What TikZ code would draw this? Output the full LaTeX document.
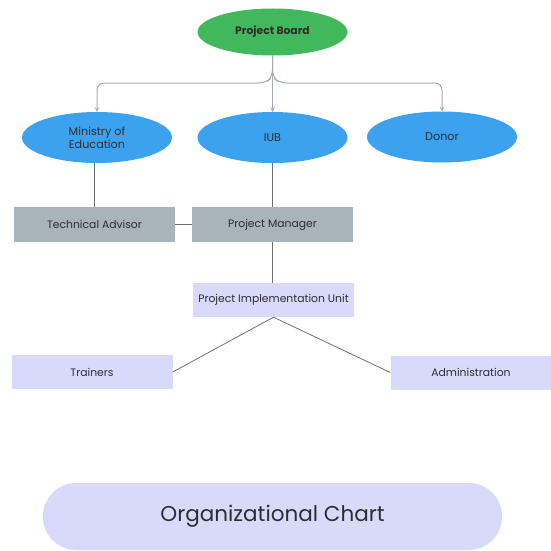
\documentclass[tikz,border=0pt]{standalone}
\usepackage{fontspec}
\setmainfont{Poppins}
\usetikzlibrary{shapes.geometric}
\definecolor{boardgreen}{HTML}{42B85C}
\definecolor{bodyblue}{HTML}{3CA1EE}
\definecolor{staffgrey}{HTML}{A9B3BA}
\definecolor{unitlilac}{HTML}{D7DAFB}
\definecolor{linkgrey}{HTML}{A4ABB2}
\definecolor{wiregrey}{HTML}{707070}
\definecolor{inkgrey}{HTML}{2E2E2E}
\begin{document}
\begin{tikzpicture}[x=1pt,y=-1pt,font=\fontsize{10.8}{12.5}\selectfont, text=inkgrey,
	oval/.style={ellipse,inner sep=0pt,minimum width=150pt,align=center},
	board/.style={oval,fill=boardgreen,minimum height=47pt,font=\fontsize{10.8}{12.5}\selectfont\bfseries},
	body/.style={oval,fill=bodyblue,minimum height=51pt,font=\fontsize{11.2}{13}\selectfont},
	staff/.style={rectangle,inner sep=0pt,fill=staffgrey,minimum width=161pt,minimum height=35pt},
	unit/.style={rectangle,inner sep=0pt,fill=unitlilac,minimum width=161pt,minimum height=34pt},
	link/.style={draw=linkgrey,line width=1pt,-stealth},
	wire/.style={draw=wiregrey,line width=0.8pt}]
	\useasboundingbox (0,0) rectangle (550,551);
	% top level
	\node[board] (pb) at (272.5,32) {Project Board};
	\node[body] (moe) at (97,137.5) {Ministry of\\Education};
	\node[body] (iub) at (272.5,137.5) {IUB};
	\node[body] (donor) at (442,137) {Donor};
	\draw[link] (pb.south) -- (iub.north);
	\draw[link,rounded corners=7pt] (pb.south) -- (272.5,77) -- (265.5,83) -| (moe.north);
	\draw[link,rounded corners=7pt] (pb.south) -- (272.5,77) -- (279.5,83) -| (donor.north);
	% management
	\node[staff] (ta) at (94.5,224.5) {Technical Advisor};
	\node[staff] (pm) at (272.5,224.5) {Project Manager};
	\draw[wire] (moe.south -| ta.north) -- (ta.north);
	\draw[wire] (iub.south) -- (pm.north);
	\draw[wire] (ta.east) -- (pm.west);
	% unit
	\node[unit] (piu) at (273.5,300) {Project Implementation Unit};
	\node[unit] (trn) at (92,372) {Trainers};
	\node[unit] (adm) at (471,372.5) {Administration};
	\draw[wire] (pm.south) -- (pm.south |- piu.north);
	\draw[wire] (piu.south) -- (trn.east);
	\draw[wire] (piu.south) -- (adm.west);
	% title
	\node[fill=unitlilac,rounded corners=33pt,minimum width=459pt,minimum height=67pt,
		font=\fontsize{21.5}{25}\selectfont,text=inkgrey] (title) at (272.5,516.5) {Organizational Chart};
\end{tikzpicture}
\end{document}
